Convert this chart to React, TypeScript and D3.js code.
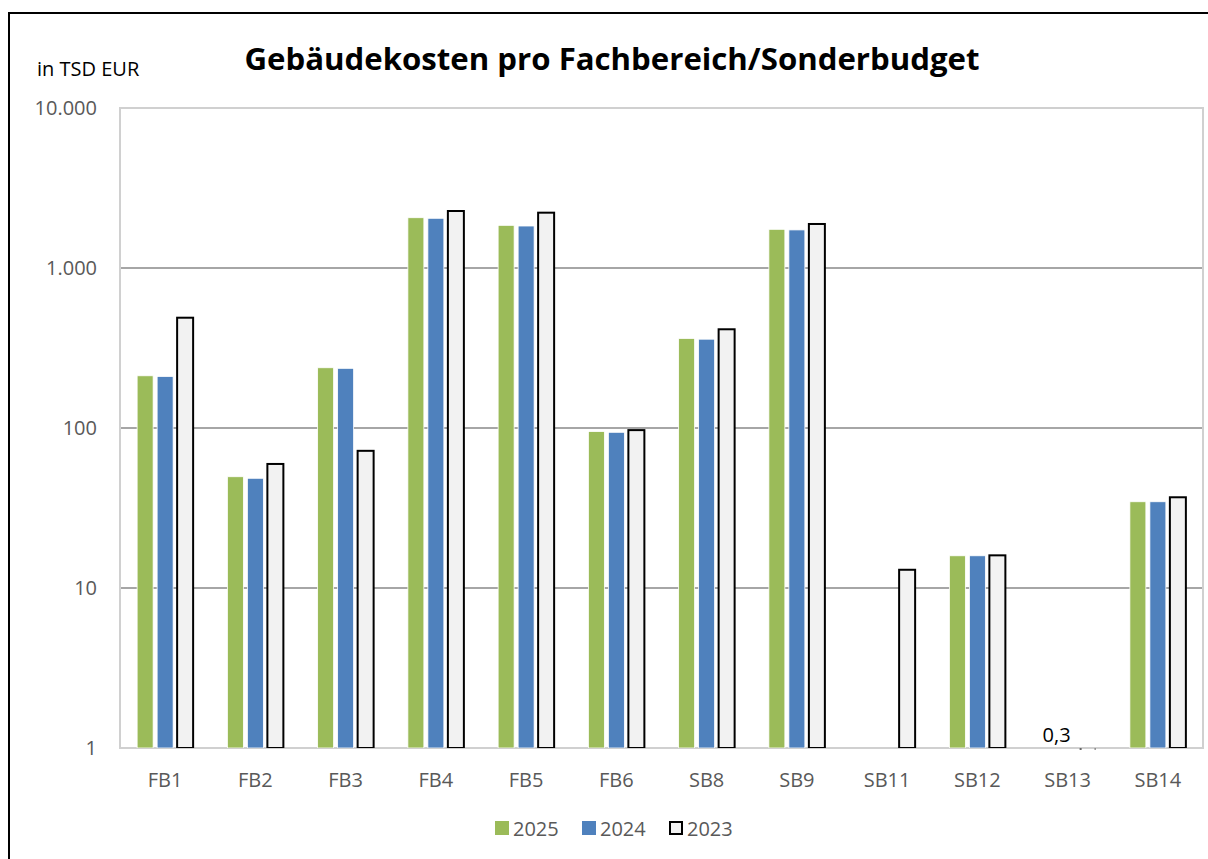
import React, { useEffect, useRef } from "react";
import * as d3 from "d3";

const categories = ["FB1", "FB2", "FB3", "FB4", "FB5", "FB6", "SB8", "SB9", "SB11", "SB12", "SB13", "SB14"];
const years = ["2025", "2024", "2023"];
const values2025 = [212, 49.6, 238, 2062, 1848, 95, 363, 1745, 0, 15.9, 0, 34.6];
const values2024 = [210, 48.5, 236, 2045, 1830, 94, 359, 1730, 0, 15.9, 0, 34.6];
const values2023 = [489, 59.6, 72, 2271, 2217, 97, 414, 1884, 13, 16, 0.3, 36.9];
const yTicks = [1, 10, 100, 1000, 10000];

const colors = ["#9bbb59", "#4f81bd", "#f2f2f2"];
const font = "'Open Sans', sans-serif";

export default function App() {
    const ref = useRef<SVGSVGElement>(null);

    useEffect(() => {
        const svg = d3.select(ref.current);
        svg.selectAll("*").remove();

        const left = 120, right = 1203, top = 108, bottom = 748;

        // outer frame
        svg.append("rect")
            .attr("x", 9).attr("y", 13)
            .attr("width", 1250).attr("height", 900)
            .attr("fill", "white")
            .attr("stroke", "black").attr("stroke-width", 2);

        const y = d3.scaleLog().domain([1, 10000]).range([bottom, top]);
        const x0 = d3.scaleBand().domain(categories).range([left, right]).paddingInner(0).paddingOuter(0);
        const groupW = 56;
        const x1 = d3.scaleBand().domain(years).range([0, groupW]).paddingInner(0.2);
        const offset = (x0.bandwidth() - groupW) / 2;

        // gridlines
        svg.append("g").selectAll("line")
            .data(yTicks.slice(1))
            .enter().append("line")
            .attr("x1", left).attr("x2", right)
            .attr("y1", d => y(d)).attr("y2", d => y(d))
            .attr("stroke", "#a6a6a6").attr("stroke-width", 2);

        // plot area border
        svg.append("rect")
            .attr("x", left).attr("y", top)
            .attr("width", right - left).attr("height", bottom - top)
            .attr("fill", "none").attr("stroke", "#d0d0d0").attr("stroke-width", 2);

        const clip = svg.append("clipPath").attr("id", "plotclip");
        clip.append("rect").attr("x", left).attr("y", top - 5).attr("width", right - left).attr("height", bottom - top + 5);

        const series = [values2025, values2024, values2023];
        const bars = svg.append("g").attr("clip-path", "url(#plotclip)");
        series.forEach((vals, si) => {
            bars.selectAll("rect.s" + si)
                .data(vals.map((v, i) => ({ v, cat: categories[i] })).filter(d => d.v >= 1))
                .enter().append("rect")
                .attr("x", d => (x0(d.cat) as number) + offset + (x1(years[si]) as number))
                .attr("y", d => y(d.v))
                .attr("width", x1.bandwidth())
                .attr("height", d => bottom - y(d.v))
                .attr("fill", colors[si])
                .attr("stroke", si === 2 ? "black" : "white")
                .attr("stroke-width", si === 2 ? 2 : 0.8);
        });

        // small value below axis minimum (SB13 2023)
        values2023.forEach((v, i) => {
            if (v > 0 && v < 1) {
                const bx = (x0(categories[i]) as number) + offset + (x1("2023") as number);
                svg.append("line")
                    .attr("x1", bx).attr("x2", bx + x1.bandwidth())
                    .attr("y1", bottom + 1).attr("y2", bottom + 1)
                    .attr("stroke", "#666").attr("stroke-width", 2)
                    .attr("stroke-dasharray", "2,13");
                svg.append("text")
                    .attr("x", bx + x1.bandwidth() / 2 - 31)
                    .attr("y", bottom - 6)
                    .attr("text-anchor", "middle")
                    .attr("font-family", font).attr("font-size", 20)
                    .attr("fill", "black")
                    .text(String(v).replace(".", ","));
            }
        });

        // y tick labels
        const fmt = d3.formatLocale({ decimal: ",", thousands: ".", grouping: [3], currency: ["", "€"] }).format(",.0f");
        svg.append("g").selectAll("text")
            .data(yTicks)
            .enter().append("text")
            .attr("x", 97).attr("y", d => y(d) + 7)
            .attr("text-anchor", "end")
            .attr("font-family", font).attr("font-size", 20)
            .attr("fill", "#595959")
            .text(d => fmt(d));

        // category labels
        svg.append("g").selectAll("text")
            .data(categories)
            .enter().append("text")
            .attr("x", d => (x0(d) as number) + x0.bandwidth() / 2)
            .attr("y", 787)
            .attr("text-anchor", "middle")
            .attr("font-family", font).attr("font-size", 20)
            .attr("fill", "#595959")
            .text(d => d);

        // title and unit
        svg.append("text")
            .attr("x", 612).attr("y", 70)
            .attr("text-anchor", "middle")
            .attr("font-family", font).attr("font-size", 31).attr("font-weight", "bold")
            .attr("textLength", 735).attr("lengthAdjust", "spacingAndGlyphs")
            .attr("fill", "black")
            .text("Gebäudekosten pro Fachbereich/Sonderbudget");
        svg.append("text")
            .attr("x", 37).attr("y", 76)
            .attr("font-family", font).attr("font-size", 20)
            .attr("fill", "black")
            .text("in TSD EUR");

        // legend
        const legendX = [495, 582, 669];
        const lg = svg.append("g");
        years.forEach((yr, i) => {
            lg.append("rect")
                .attr("x", legendX[i] + (i === 2 ? 1 : 0)).attr("y", 821 + (i === 2 ? 1 : 0))
                .attr("width", i === 2 ? 12 : 14).attr("height", i === 2 ? 12 : 14)
                .attr("fill", colors[i])
                .attr("stroke", i === 2 ? "black" : "none").attr("stroke-width", 2);
            lg.append("text")
                .attr("x", legendX[i] + 18).attr("y", 836)
                .attr("font-family", font).attr("font-size", 20)
                .attr("fill", "#595959")
                .text(yr);
        });
    }, []);

    return (
        <svg ref={ref} width={1208} height={859}
            style={{ position: "absolute", left: 0, top: 0, background: "white" }} />
    );
}
